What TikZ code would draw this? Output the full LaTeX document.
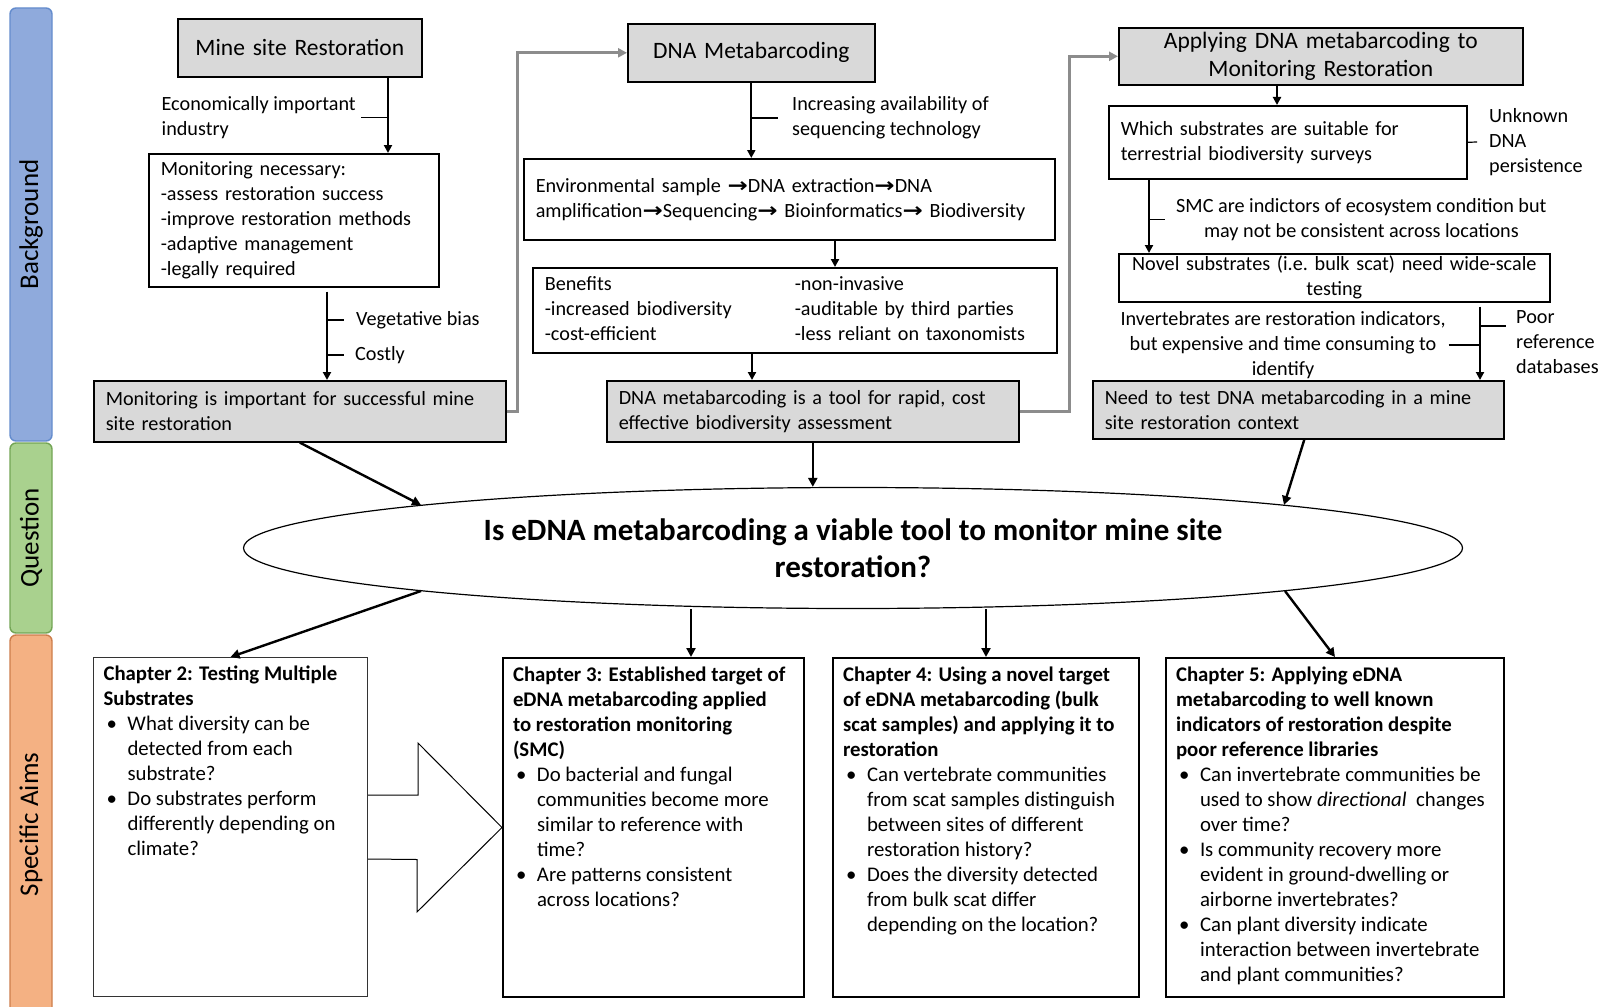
\documentclass[tikz,border=0pt]{standalone}
\usepackage{fontspec}
\setmainfont{Carlito}
\newfontfamily\arrowfont{DejaVu Sans}
\usetikzlibrary{shapes,arrows.meta}
\definecolor{boxgrey}{RGB}{217,217,217}
\definecolor{linkgrey}{RGB}{140,140,140}
\definecolor{bgfill}{RGB}{143,170,220}
\definecolor{bgline}{RGB}{100,140,205}
\definecolor{qfill}{RGB}{169,209,142}
\definecolor{qline}{RGB}{115,165,85}
\definecolor{aimfill}{RGB}{244,177,131}
\definecolor{aimline}{RGB}{205,125,75}
\newcommand{\nxt}{{\arrowfont\bfseries\scalebox{1.2}[1]{→}}}
\newcommand{\aimitem}[1]{\par\hangindent=24pt\hangafter=1\noindent\hspace*{3pt}\makebox[21pt][l]{\textbullet}#1}
\begin{document}
\begin{tikzpicture}[x=1pt,y=-1pt,font=\fontsize{20.2}{25}\selectfont]
\tikzstyle{box}=[draw,line width=1.6pt,anchor=north west,inner xsep=12pt,inner ysep=1pt,align=left]
\tikzstyle{grey}=[box,fill=boxgrey]
\tikzstyle{head}=[font=\fontsize{23.5}{28.5}\selectfont,align=center]
\tikzstyle{note}=[inner ysep=1pt,align=left]
\tikzstyle{arr}=[line width=2pt,-{Triangle[length=8pt,width=8pt]}]
\tikzstyle{big}=[line width=2.4pt,-{Triangle[length=9pt,width=9pt]}]
\tikzstyle{stub}=[line width=1.2pt]
\tikzstyle{link}=[line width=3pt,draw=linkgrey,-{Triangle[length=9pt,width=9pt]}]
\tikzstyle{bar}=[draw,rounded corners=6pt,line width=1.4pt,rotate=90,minimum height=42pt,font=\fontsize{27}{30}\selectfont]
\tikzstyle{aim}=[draw,line width=2pt,anchor=north west,inner xsep=10pt,inner ysep=0pt,font=\fontsize{20.8}{25}\selectfont]
\useasboundingbox (0,0) rectangle (1602,1006);
\node[bar,fill=bgfill,draw=bgline,minimum width=433pt] (bg) at (31,224.5) {Background};
\node[bar,fill=qfill,draw=qline,minimum width=190pt] (qu) at (31,538) {Question};
\node[bar,fill=aimfill,draw=aimline,minimum width=379pt] (sa) at (31,824.5) {Specific Aims};
\node[grey,head,text width=220pt,minimum height=58pt] (msr) at (177,18) {Mine site Restoration};
\node[box,text width=266pt,minimum height=133pt] (mnec) at (148,153) {Monitoring necessary:\\-assess restoration success\\-improve restoration methods\\-adaptive management\\-legally required};
\node[grey,text width=388pt,minimum height=61pt] (mimp) at (93,380) {Monitoring is important for successful mine\\site restoration};
\node[grey,head,text width=223pt,minimum height=58pt] (dna) at (627,23) {DNA Metabarcoding};
\node[box,text width=507pt,minimum height=81pt] (env) at (523,158) {Environmental sample \nxt DNA extraction\nxt DNA\\amplification\nxt Sequencing\nxt{} Bioinformatics\nxt{} Biodiversity};
\node[box,text width=500pt,minimum height=85pt] (ben) at (532,267) {\begin{tabular}{@{}p{250pt}@{}l@{}}Benefits & -non-invasive\\-increased biodiversity & -auditable by third parties\\-cost-efficient & -less reliant on taxonomists\end{tabular}};
\node[grey,text width=388pt,minimum height=61pt] (tool) at (606,380) {DNA metabarcoding is a tool for rapid, cost\\effective biodiversity assessment};
\node[grey,head,text width=380pt,minimum height=57pt,inner ysep=0pt] (app) at (1118,27) {Applying DNA metabarcoding to\\Monitoring Restoration};
\node[box,text width=334pt,minimum height=73pt] (which) at (1108,105) {Which substrates are suitable for\\terrestrial biodiversity surveys};
\node[box,align=center,inner xsep=4pt,text width=423pt,minimum height=48pt,inner ysep=0pt] (novel) at (1118,253) {Novel substrates (i.e.\ bulk scat) need wide-scale\\testing};
\node[grey,text width=387pt,minimum height=58pt] (need) at (1092,380) {Need to test DNA metabarcoding in a mine\\site restoration context};
\node[note,anchor=east,inner xsep=5pt] (econ) at (361,117.5) {Economically important\\industry};
\node[note,anchor=west,inner xsep=12pt] (veg) at (344,320) {Vegetative bias};
\node[note,anchor=west,inner xsep=11pt] (costly) at (344,355) {Costly};
\node[note,anchor=west,inner xsep=14pt] (incr) at (778,118) {Increasing availability of\\sequencing technology};
\node[note,anchor=west,inner xsep=12pt] (unk) at (1477,142) {Unknown\\DNA\\persistence};
\node[note,anchor=west,inner xsep=11pt,align=center] (smc) at (1165,219.5) {SMC are indictors of ecosystem condition but\\may not be consistent across locations};
\node[note,align=center,inner xsep=3pt] (inv) at (1283,345) {Invertebrates are restoration indicators,\\but expensive and time consuming to\\identify};
\node[note,anchor=west,inner xsep=10pt] (poor) at (1506,342) {Poor\\reference\\databases};
\node[draw,ellipse,line width=1.2pt,minimum width=1219pt,minimum height=121pt,inner sep=0pt,align=center,font=\fontsize{31}{37}\selectfont\bfseries] (q) at (853,548) {Is eDNA metabarcoding a viable tool to monitor mine site\\restoration?};
\node[aim,line width=1pt,draw=black!80] (ch2) at (93,657) {\parbox[c][339pt][t]{254pt}{\rule{0pt}{23pt}{\bfseries Chapter 2: Testing Multiple\newline Substrates}
\aimitem{What diversity can be\newline detected from each\newline substrate?}
\aimitem{Do substrates perform\newline differently depending on\newline climate?}}};
\node[aim] (ch3) at (502,657) {\parbox[c][339pt][t]{281pt}{\rule{0pt}{23pt}{\bfseries Chapter 3: Established target of\newline eDNA metabarcoding applied\newline to restoration monitoring\newline (SMC)}
\aimitem{Do bacterial and fungal\newline communities become more\newline similar to reference with\newline time?}
\aimitem{Are patterns consistent\newline across locations?}}};
\node[aim] (ch4) at (832,657) {\parbox[c][339pt][t]{286pt}{\rule{0pt}{23pt}{\bfseries Chapter 4: Using a novel target\newline of eDNA metabarcoding (bulk\newline scat samples) and applying it to\newline restoration}
\aimitem{Can vertebrate communities\newline from scat samples distinguish\newline between sites of different\newline restoration history?}
\aimitem{Does the diversity detected\newline from bulk scat differ\newline depending on the location?}}};
\node[aim] (ch5) at (1165,657) {\parbox[c][339pt][t]{318pt}{\rule{0pt}{23pt}{\bfseries Chapter 5: Applying eDNA\newline metabarcoding to well known\newline indicators of restoration despite\newline poor reference libraries}
\aimitem{Can invertebrate communities be\newline used to show \textit{directional}\ \ changes\newline over time?}
\aimitem{Is community recovery more\newline evident in ground-dwelling or\newline airborne invertebrates?}
\aimitem{Can plant diversity indicate\newline interaction between invertebrate\newline and plant communities?}}};
\coordinate (mx) at (388,0);
\coordinate (vx) at (327,0);
\coordinate (ex) at (835,0);
\coordinate (bx) at (752,0);
\coordinate (ax) at (1277,0);
\coordinate (wx) at (1149,0);
\coordinate (nx) at (1480,0);
\coordinate (cx) at (691,0);
\coordinate (s1) at ([yshift=16pt]poor.west);
\coordinate (qnw) at (421,505);
\coordinate (qne) at (1284,505);
\coordinate (qsw) at (421,591);
\coordinate (qse) at (1285,591);
\draw[arr] (msr.south -| mx) -- (mnec.north -| mx);
\draw[arr,shorten <=4pt] (mnec.south -| vx) -- (mimp.north -| vx);
\draw[arr] (dna.south) -- (dna.south |- env.north);
\draw[arr] (env.south -| ex) -- (ben.north -| ex);
\draw[arr] (ben.south -| bx) -- (tool.north -| bx);
\draw[arr] (app.south -| ax) -- (which.north -| ax);
\draw[arr] (which.south -| wx) -- (novel.north -| wx);
\draw[arr,shorten <=4pt] (novel.south -| nx) -- (need.north -| nx);
\draw[stub] (econ.east) -- (econ.east -| mx);
\draw[stub] (veg.west -| vx) -- (veg.west);
\draw[stub] (costly.west -| vx) -- (costly.west);
\draw[stub] (incr.west -| dna.south) -- (incr.west);
\draw[stub] (which.east) -- (unk.west);
\draw[stub] (smc.west -| wx) -- (smc.west);
\draw[stub] (s1 -| nx) -- (s1);
\draw[stub] (inv.east) -- (inv.east -| nx);
\draw[link] (mimp.east) -- ++(11,0) |- (dna.west);
\draw[link] (tool.east) -- ++(50,0) |- (app.west);
\draw[big] (mimp.south) -- (qnw);
\draw[big] (tool.south) -- (tool.south |- q.north);
\draw[big,shorten <=0pt] ([xshift=6pt]need.south) -- (qne);
\draw[big] (qsw) -- (ch2.north);
\draw[big] (cx |- q.south) -- (cx |- ch3.north);
\draw[big] (q.south -| ch4.north) -- (ch4.north);
\draw[big] (qse) -- (ch5.north);
\draw[line width=1pt,fill=white] ([yshift=32pt]ch2.east) -- ++(50,0) -- ++(0,-52) -- (ch3.west) -- ++(-85,84.5) -- ++(0,-52.5) -- ([yshift=-32pt]ch2.east);
\end{tikzpicture}
\end{document}
